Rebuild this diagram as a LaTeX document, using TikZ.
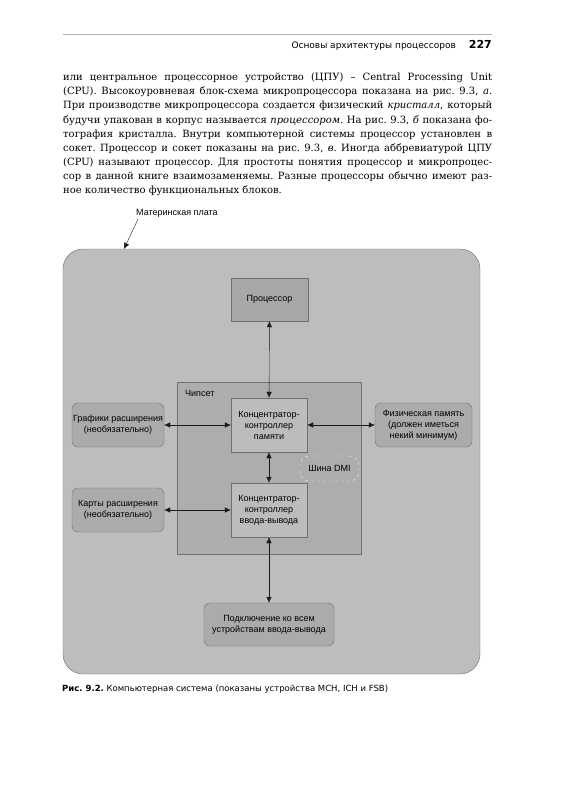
\documentclass[tikz,border=0pt]{standalone}
\usepackage{fontspec}
\setmainfont{DejaVu Serif}
\setsansfont{Liberation Sans}
\newfontfamily\headfont{DejaVu Sans}
\usepackage{xcolor}
\usepackage{tikz}
\usetikzlibrary{shapes.geometric, arrows, arrows.meta, positioning}

\definecolor{boardfill}{HTML}{BDBDBD}
\definecolor{chipfill}{HTML}{ADADAD}
\definecolor{cpufill}{HTML}{A8A8A8}
\definecolor{hubfill}{HTML}{BCBCBC}
\definecolor{extfill}{HTML}{ABABAB}
\definecolor{edgegray}{HTML}{707070}
\definecolor{inkgray}{HTML}{1A1A1A}

\newcommand{\bodyline}[1]{\hbox to 429pt{#1}}

\begin{document}
\frenchspacing
\begin{tikzpicture}[x=1pt, y=-1pt, align=center, auto]
    % Define styles
    \tikzstyle{board} = [rectangle, rounded corners=20pt, minimum width=417pt, minimum height=425pt, draw=edgegray, fill=boardfill]
    \tikzstyle{chipset} = [rectangle, minimum width=184pt, minimum height=172pt, draw=edgegray, fill=chipfill]
    \tikzstyle{cpu} = [rectangle, minimum width=77pt, minimum height=43pt, draw=edgegray, fill=cpufill, font=\sffamily\fontsize{9}{11}\selectfont, text=black]
    \tikzstyle{hub} = [rectangle, minimum width=76pt, minimum height=54pt, draw=edgegray, fill=hubfill, font=\sffamily\fontsize{9}{11}\selectfont, text=black]
    \tikzstyle{ext} = [rectangle, rounded corners=6pt, minimum height=44pt, draw=edgegray, fill=extfill, inner sep=1pt, font=\sffamily\fontsize{9}{11}\selectfont, text=black]
    \tikzstyle{bus} = [rectangle, rounded corners=9pt, minimum width=59pt, minimum height=25pt, draw=white!85!gray, dashed, font=\sffamily\fontsize{9}{11}\selectfont, text=black]
    \tikzstyle{arrow} = [draw=inkgray, {Latex[length=6pt,width=5.5pt]}-{Latex[length=6pt,width=5.5pt]}]
    \tikzstyle{label} = [font=\sffamily\fontsize{9}{11}\selectfont, text=black, inner sep=0pt]

    \useasboundingbox (0,0) rectangle (560,794);
    \fill[white] (0,0) rectangle (560,794);

    % Page head and text
    \draw[gray!60] (63,34) -- (492,34);
    \node (pagenum) [anchor=base east, inner sep=0pt, font=\headfont\bfseries\fontsize{11}{13}\selectfont] at (492,49) {227};
    \node (runhead) [anchor=base east, inner sep=0pt, font=\headfont\fontsize{9}{11}\selectfont] at (456,49) {Основы архитектуры процессоров};
    \node (bodytext) [anchor=north west, inner sep=0pt, align=left, font=\fontsize{10}{14.1}\selectfont] at (63,73) {\vbox{\baselineskip=14.1pt
        \bodyline{или центральное процессорное устройство (ЦПУ) – Central Processing Unit}
        \bodyline{(CPU). Высокоуровневая блок-схема микропроцессора показана на рис. 9.3, \textit{а}.}
        \bodyline{При производстве микропроцессора создается физический \textit{кристалл}, который}
        \bodyline{будучи упакован в корпус называется \textit{процессором}. На рис. 9.3, \textit{б} показана фо-}
        \bodyline{тография кристалла. Внутри компьютерной системы процессор установлен в}
        \bodyline{сокет. Процессор и сокет показаны на рис. 9.3, \textit{в}. Иногда аббревиатурой ЦПУ}
        \bodyline{(CPU) называют процессор. Для простоты понятия процессор и микропроцес-}
        \bodyline{сор в данной книге взаимозаменяемы. Разные процессоры обычно имеют раз-}
        \hbox{ное количество функциональных блоков.}}};

    % Nodes
    \node (mobo) [board] at (271.5,461.5) {};
    \node (mobolabel) [label, anchor=base west] at (136,215) {Материнская плата};
    \coordinate (moboedge) at (124,249);
    \node (chips) [chipset] at (269,468) {};
    \node (chipslabel) [label, anchor=base west] at (185,396) {Чипсет};
    \node (cpu) [cpu] at (269.5,299.5) {Процессор};
    \node (mch) [hub] at (269,425) {Концентратор-\\контроллер\\памяти};
    \node (ich) [hub] at (269,510) {Концентратор-\\контроллер\\ввода-вывода};
    \node (gfx) [ext, minimum width=92pt] at (118,425) {Графики расширения\\(необязательно)};
    \node (mem) [ext, minimum width=97pt] at (423.5,425) {Физическая память\\(должен иметься\\некий минимум)};
    \node (cards) [ext, minimum width=92pt] at (118,510) {Карты расширения\\(необязательно)};
    \node (io) [ext, minimum width=130pt, minimum height=43pt] at (269,624.5) {Подключение ко всем\\устройствам ввода-вывода};
    \node (dmi) [bus] at (329.5,468.5) {Шина DMI};

    % Arrows
    \draw [draw=inkgray, -{Latex[length=6pt,width=5.5pt]}] ([xshift=2pt,yshift=-2pt]mobolabel.south west) -- (moboedge);
    \draw [arrow] (cpu) -- (mch);
    \draw [arrow] (mch) -- (ich);
    \draw [arrow] (ich) -- (io);
    \draw [arrow] (gfx) -- (mch);
    \draw [arrow] (mch) -- (mem);
    \draw [arrow] (cards) -- (ich);

    % Caption
    \node (caption) [anchor=base west, inner sep=0pt, font=\headfont\fontsize{8.5}{10}\selectfont] at (62,691) {\textbf{Рис. 9.2.} Компьютерная система (показаны устройства MCH, ICH и FSB)};
\end{tikzpicture}
\end{document}
